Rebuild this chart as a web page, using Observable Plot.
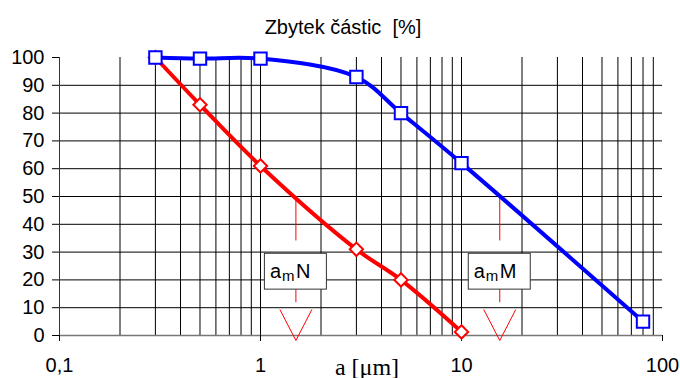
<!DOCTYPE html>
<html><head><meta charset="utf-8">
<script src="https://cdn.jsdelivr.net/npm/d3@7"></script>
<script src="https://cdn.jsdelivr.net/npm/@observablehq/plot@0.6"></script>
<style>body{margin:0;background:#fff;overflow:hidden}</style>
</head><body><div id="chart"></div>
<script>
const title = "Zbytek částic  [%]";
const xLabel = "a [μm]";
// series N (red, diamonds)
const sizesN = [0.3, 0.5, 1, 3, 5, 10];
const residueN = [100, 83, 61, 31, 20, 1.3];
// series M (blue, squares)
const sizesM = [0.3, 0.5, 1, 3, 5, 10, 80];
const residueM = [100, 99.6, 99.6, 93, 80, 62, 5];
// axes
const xTicks = [0.1, 1, 10, 100];
const yTicks = [0, 10, 20, 30, 40, 50, 60, 70, 80, 90, 100];
const xGrid = [0.2, 0.3, 0.4, 0.5, 0.6, 0.7, 0.8, 0.9, 1, 2, 3, 4, 5, 6, 7, 8, 9, 10, 20, 30, 40, 50, 60, 70, 80, 90];
const yGrid = [10, 20, 30, 40, 50, 60, 70, 80, 90];
// median annotations
const annotX = [1.5, 15.5];
const annotName = ["N", "M"];
const medianLevel = 50;
const ruleBreak = 34;
const boxLow = 16.5, boxHigh = 29.4, boxMid = 23;
const dashLow = 11.8;

const serN = sizesN.map((x, i) => ({x, y: residueN[i]}));
const serM = sizesM.map((x, i) => ({x, y: residueM[i]}));
const annots = annotX.map((x, i) => ({x, name: annotName[i]}));

const diamond = {draw(ctx, size) { const r = Math.sqrt(size) * 0.62625; ctx.moveTo(0, -r); ctx.lineTo(r, 0); ctx.lineTo(0, r); ctx.lineTo(-r, 0); ctx.closePath(); }};
const vHead = {draw(ctx) { ctx.moveTo(-16, -31); ctx.lineTo(0, 0); ctx.lineTo(16, -31); }};

const chart = Plot.plot({
  width: 680, height: 378,
  marginLeft: 59, marginRight: 18, marginTop: 57, marginBottom: 43,
  style: {fontFamily: "'Liberation Sans', Arial, sans-serif", fontSize: "20px", background: "white", color: "black", overflow: "visible"},
  x: {type: "log", domain: [0.1, 100], axis: null},
  y: {domain: [0, 100], axis: null},
  marks: [
    Plot.ruleX(xGrid, {stroke: "#000", strokeWidth: 1}),
    Plot.ruleY(yGrid, {stroke: "#000", strokeWidth: 1}),
    Plot.ruleX([0.1], {stroke: "#333"}),
    Plot.ruleY([0], {stroke: "#777", strokeWidth: 1.5}),
    Plot.axisY({ticks: yTicks, tickSize: 7, tickPadding: 8, fontSize: 20, anchor: "left", label: null}),
    Plot.axisX({ticks: xTicks, tickSize: 6, tickPadding: 16, fontSize: 20, anchor: "bottom", label: null, tickFormat: d => String(d).replace(".", ",")}),
    // annotations
    Plot.ruleX(annots, {x: "x", y1: medianLevel, y2: ruleBreak, stroke: "red", strokeWidth: 1}),
    Plot.ruleX(annots, {x: "x", y1: boxLow, y2: dashLow, stroke: "red", strokeWidth: 1}),
    Plot.dot(annots, {x: "x", y: 0, dy: 5, symbol: vHead, fill: "none", stroke: "red", strokeWidth: 1, r: 5}),
    Plot.rect(annots, {x1: "x", x2: "x", y1: boxLow, y2: boxHigh, insetLeft: -31, insetRight: -31, fill: "white", stroke: "#333", strokeWidth: 1}),
    Plot.text(annots, {x: "x", y: boxMid, text: () => "a", dx: -26, textAnchor: "start", fontSize: 20}),
    Plot.text(annots, {x: "x", y: boxMid, text: () => "m", dx: -14, dy: 5, textAnchor: "start", fontSize: 15}),
    Plot.text(annots, {x: "x", y: boxMid, text: "name", dx: 0, textAnchor: "start", fontSize: 20}),
    // series
    Plot.line(serN, {x: "x", y: "y", stroke: "#ff0000", strokeWidth: 4, curve: "catmull-rom"}),
    Plot.dot(serN, {x: "x", y: "y", symbol: diamond, r: 6, fill: "white", stroke: "#ff0000", strokeWidth: 2}),
    Plot.line(serM, {x: "x", y: "y", stroke: "#0000ff", strokeWidth: 4, curve: "catmull-rom"}),
    Plot.dot(serM, {x: "x", y: "y", symbol: "square", r: 7, fill: "white", stroke: "#0000ff", strokeWidth: 2}),
    // titles
    Plot.text([title], {frameAnchor: "top", dx: -18, dy: -38, fontSize: 20}),
    Plot.text([xLabel], {frameAnchor: "bottom", dx: 6, dy: 39, fontSize: 24, fontFamily: "'Liberation Serif', 'Times New Roman', serif"})
  ]
});
document.getElementById("chart").appendChild(chart);
</script>
</body></html>
